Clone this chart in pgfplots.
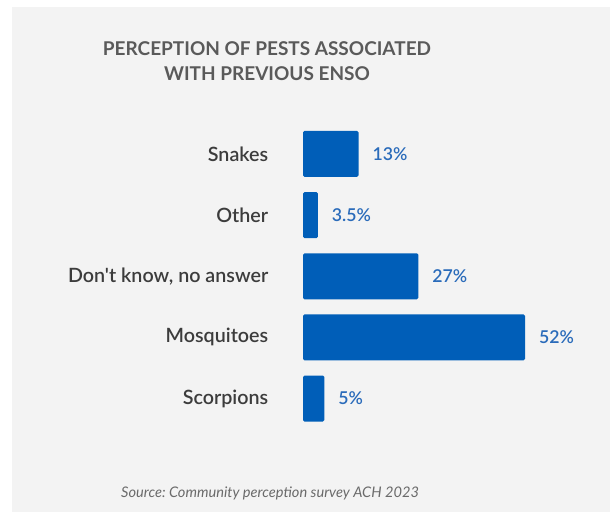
\documentclass[border=0pt]{standalone}
\usepackage{fontspec}
\setmainfont{Lato}[Ligatures=TeXOff]
\newfontfamily\semi{Lato Semibold}[Ligatures=TeXOff]
\usepackage{pgfplots}
\pgfplotsset{compat=1.18}
\frenchspacing
\definecolor{bg}{HTML}{F3F3F3}
\definecolor{barblue}{HTML}{005EB8}
\definecolor{lblblue}{HTML}{2A6BBA}
\definecolor{titlegray}{HTML}{5A5A5A}
\definecolor{catgray}{HTML}{3C3C3C}
\definecolor{srcgray}{HTML}{6A6A6A}
\begin{document}
\begin{tikzpicture}
\fill[white] (0,0) rectangle (610pt,512pt);
\fill[bg] (12pt,0) rectangle (610pt,505pt);
\node[align=center, font=\fontsize{19}{25}\selectfont\bfseries, text=titlegray] at (267pt,451pt) {PERCEPTION OF PESTS ASSOCIATED\\WITH PREVIOUS ENSO};
\begin{axis}[
  at={(303pt,82.9pt)}, anchor=south west,
  scale only axis, width=256.2pt, height=305.7pt,
  xmin=0, xmax=60, ymin=0.5, ymax=5.5,
  clip=false,
  axis line style={draw=none},
  tick style={draw=none},
  xtick=\empty,
  ytick={1,2,3,4,5},
  yticklabels={Scorpions,Mosquitoes,{Don't know, no answer},Other,Snakes},
  yticklabel style={font=\semi\fontsize{19.7}{24}\selectfont, text=catgray, anchor=east, xshift=-27pt},
  xbar, bar width=46pt,
  nodes near coords, point meta=explicit symbolic,
  every node near coord/.append style={anchor=west, xshift=10.5pt, font=\semi\fontsize{17.7}{20}\selectfont, text=lblblue},
]
\addplot[fill=barblue, draw=none, rounded corners=1.5pt] coordinates {
  (5,1) [5\%]
  (52,2) [52\%]
  (27,3) [27\%]
  (3.5,4) [3.5\%]
  (13,5) [13\%]
};
\end{axis}
\node[font=\fontsize{14.6}{18}\selectfont\itshape, text=srcgray] at (270pt,19pt) {Source: Community perception survey ACH 2023};
\pgfresetboundingbox
\path[use as bounding box] (0,0) rectangle (610pt,512pt);
\end{tikzpicture}
\end{document}
